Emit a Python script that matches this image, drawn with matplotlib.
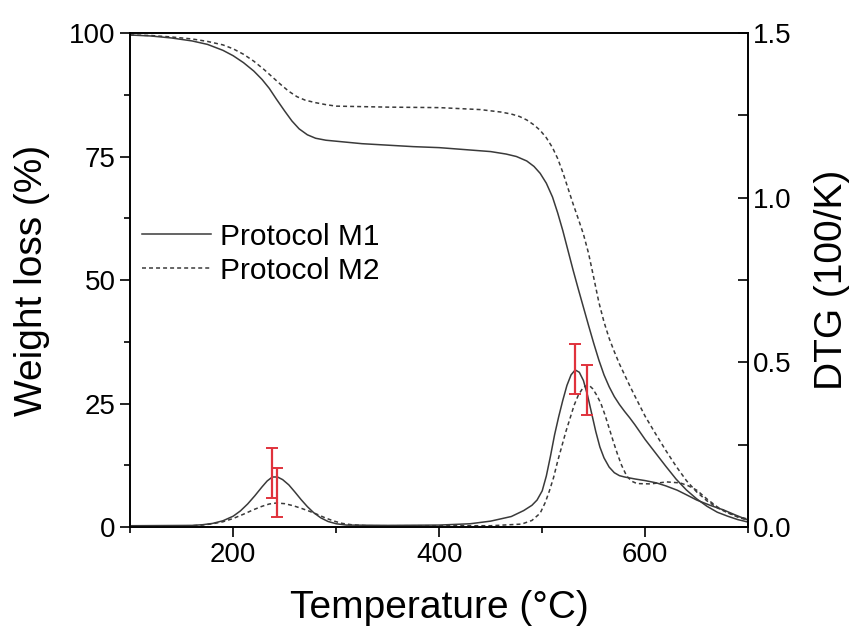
import matplotlib
matplotlib.use("Agg")
import matplotlib.pyplot as plt
from matplotlib.ticker import MultipleLocator, FormatStrFormatter

plt.rcParams['font.family'] = ['Liberation Sans', 'DejaVu Sans']

# weight loss curves (%)
t_w1 = [100, 120, 140, 160, 175, 190, 200, 210, 220, 228, 235, 242, 250, 257, 264, 272, 280, 290, 300,
        325, 350, 375, 400, 425, 450, 465, 475, 485, 492, 498, 504, 510, 515, 520, 525, 530, 535, 540,
        545, 550, 555, 560, 565, 570, 575, 580, 585, 590, 595, 600, 610, 620, 630, 640, 650, 660, 670,
        680, 690, 700]
w_m1 = [99.6, 99.4, 99.0, 98.4, 97.7, 96.5, 95.4, 94.0, 92.3, 90.6, 88.8, 86.6, 84.2, 82.2, 80.6, 79.4, 78.7, 78.3, 78.1,
        77.6, 77.3, 77.0, 76.8, 76.4, 76.0, 75.5, 75.0, 74.1, 73.0, 71.6, 69.6, 66.8, 63.6, 60.0, 56.0, 52.0, 48.2, 44.5,
        40.8, 37.2, 33.8, 30.8, 28.4, 26.4, 24.8, 23.4, 22.1, 20.7, 19.2, 17.7, 15.0, 12.3, 9.7, 7.5, 5.7, 4.2, 3.0,
        2.2, 1.5, 1.0]

t_w2 = [100, 120, 140, 160, 175, 190, 200, 210, 220, 230, 238, 246, 254, 262, 270, 280, 290, 300, 325, 350,
        400, 440, 460, 470, 478, 485, 492, 498, 504, 510, 515, 520, 525, 530, 535, 540, 545, 550, 555, 560,
        565, 570, 575, 580, 585, 590, 600, 610, 620, 630, 640, 650, 660, 670, 680, 690, 700]
w_m2 = [99.6, 99.5, 99.2, 98.8, 98.3, 97.6, 96.8, 95.7, 94.3, 92.6, 91.1, 89.6, 88.2, 87.1, 86.4, 85.9, 85.5, 85.2, 85.1, 85.0,
        84.9, 84.5, 84.0, 83.6, 83.1, 82.4, 81.4, 80.3, 78.8, 76.8, 74.6, 71.8, 68.6, 65.4, 62.4, 59.3, 55.4, 50.5, 45.5, 41.5,
        38.2, 35.5, 33.0, 30.8, 28.6, 26.5, 22.4, 18.9, 15.5, 12.3, 9.4, 7.1, 5.3, 3.9, 2.9, 2.1, 1.6]

# DTG curves (100/K)
t_d1 = [100, 160, 170, 180, 190, 200, 207, 214, 221, 228, 233, 238, 243, 248, 254, 260, 266, 272, 278, 285, 292,
        300, 310, 350, 400, 430, 450, 470, 482, 490, 495, 500, 504, 508, 512, 516, 520, 524, 528, 532, 536, 540,
        544, 548, 552, 556, 560, 565, 570, 575, 580, 590, 600, 611, 620, 631, 640, 650, 663, 676, 688, 700]
d_m1 = [0.004, 0.005, 0.007, 0.011, 0.019, 0.033, 0.049, 0.070, 0.095, 0.122, 0.140, 0.152, 0.152, 0.144, 0.128, 0.106, 0.083, 0.062, 0.044, 0.028, 0.017,
        0.010, 0.006, 0.005, 0.006, 0.010, 0.018, 0.032, 0.050, 0.066, 0.082, 0.110, 0.155, 0.215, 0.280, 0.335, 0.385, 0.430, 0.462, 0.477, 0.470, 0.445,
        0.400, 0.345, 0.290, 0.243, 0.210, 0.182, 0.165, 0.156, 0.152, 0.146, 0.141, 0.134, 0.125, 0.112, 0.098, 0.082, 0.066, 0.052, 0.036, 0.021]

t_d2 = [100, 160, 170, 180, 190, 200, 210, 220, 228, 235, 242, 250, 258, 266, 274, 282, 290, 298, 306, 315, 330,
        400, 450, 480, 490, 498, 503, 507, 511, 515, 519, 523, 527, 531, 535, 540, 545, 549, 553, 557, 561, 565,
        569, 573, 577, 582, 587, 592, 605, 621, 634, 642, 650, 660, 670, 680, 690, 700]
d_m2 = [0.003, 0.004, 0.006, 0.010, 0.016, 0.026, 0.039, 0.053, 0.063, 0.070, 0.073, 0.071, 0.065, 0.057, 0.048, 0.038, 0.027, 0.018, 0.011, 0.007, 0.004,
        0.004, 0.004, 0.009, 0.020, 0.042, 0.075, 0.110, 0.150, 0.200, 0.245, 0.290, 0.330, 0.370, 0.400, 0.425, 0.432, 0.420, 0.400, 0.375, 0.340, 0.300,
        0.260, 0.222, 0.188, 0.155, 0.139, 0.132, 0.131, 0.137, 0.134, 0.125, 0.112, 0.085, 0.061, 0.044, 0.030, 0.020]

# error bars on DTG peaks
err_t = [238, 243, 532, 543]
err_y = [0.164, 0.105, 0.480, 0.416]
err_e = [0.076, 0.075, 0.076, 0.076]

line_col = '#3a3a3a'
dash = (0, (2.6, 2.0))

fig = plt.figure(figsize=(8.68, 6.35), dpi=100)
ax = fig.add_axes([0.150, 0.170, 0.712, 0.778])
ax2 = ax.twinx()

l1, = ax.plot(t_w1, w_m1, color=line_col, lw=1.1, label='Protocol M1')
l2, = ax.plot(t_w2, w_m2, color=line_col, lw=1.1, ls=dash, label='Protocol M2')
ax2.plot(t_d1, d_m1, color=line_col, lw=1.1)
ax2.plot(t_d2, d_m2, color=line_col, lw=1.1, ls=dash)
ax2.errorbar(err_t, err_y, yerr=err_e, fmt='none', ecolor='#e0323c', elinewidth=1.6,
             capsize=4.5, capthick=1.4)

ax.set_xlim(100, 700)
ax.set_ylim(0, 100)
ax2.set_ylim(0, 1.5)

ax.xaxis.set_major_locator(MultipleLocator(200))
ax.xaxis.set_minor_locator(MultipleLocator(100))
ax.yaxis.set_major_locator(MultipleLocator(25))
ax.yaxis.set_minor_locator(MultipleLocator(12.5))
ax2.yaxis.set_major_locator(MultipleLocator(0.5))
ax2.yaxis.set_minor_locator(MultipleLocator(0.25))
ax2.yaxis.set_major_formatter(FormatStrFormatter('%.1f'))

ax.tick_params(axis='both', which='major', direction='out', length=7, width=1.2, labelsize=20, top=False, right=False)
ax.tick_params(axis='both', which='minor', direction='out', length=4, width=1.2, top=False, right=False)
ax2.tick_params(axis='y', which='major', direction='in', length=7, width=1.2, labelsize=20)
ax2.tick_params(axis='y', which='minor', direction='in', length=7, width=1.2)

for a in (ax, ax2):
    for s in a.spines.values():
        s.set_linewidth(1.2)

ax.set_xlabel('Temperature (°C)', fontsize=28, labelpad=16)
ax.set_ylabel('Weight loss (%)', fontsize=28, labelpad=14)
ax2.set_ylabel('DTG (100/K)', fontsize=28, labelpad=16)

ax.legend(handles=[l1, l2], loc='center left', bbox_to_anchor=(0.019, 0.553), frameon=False,
          fontsize=21.5, handlelength=2.3, handletextpad=0.3, labelspacing=0.2,
          borderpad=0, borderaxespad=0)

fig.savefig('out.png', dpi=100)
